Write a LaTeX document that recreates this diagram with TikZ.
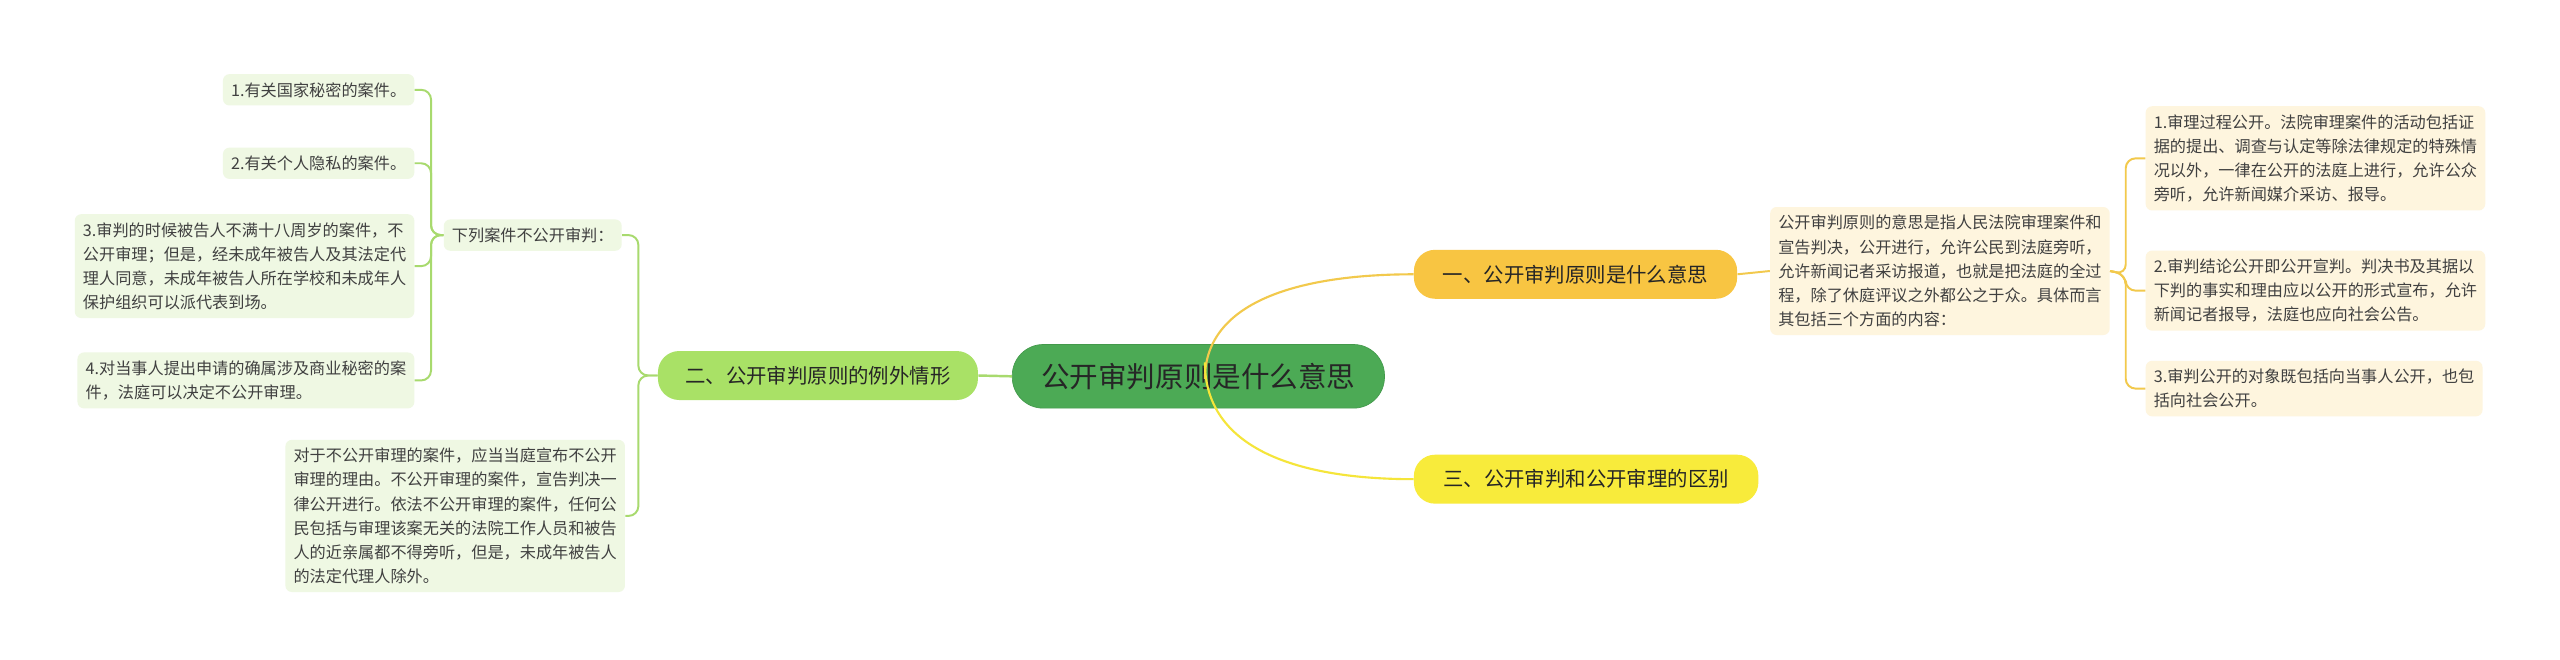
\documentclass[tikz,border=0pt]{standalone}
\usepackage{fontspec}
\setmainfont{Noto Sans CJK SC}
\definecolor{gfill}{HTML}{EFF8E3}
\definecolor{gline}{HTML}{A8DA6E}
\definecolor{ofill}{HTML}{FEF5DE}
\definecolor{oline}{HTML}{F2C94C}
\definecolor{yline}{HTML}{F5E53A}
\definecolor{cfill}{HTML}{4CAA55}
\definecolor{cdraw}{HTML}{43994B}
\definecolor{bone}{HTML}{F8C542}
\definecolor{bthree}{HTML}{F8EB3B}
\definecolor{btwo}{HTML}{A9E166}
\begin{document}
\begin{tikzpicture}[x=1pt,y=-1pt,
  leafg/.style={fill=gfill,rounded corners=4pt,align=left,font=\fontsize{9.9}{14.8}\selectfont,text=black!75,inner sep=5pt,anchor=east},
  leafo/.style={fill=ofill,rounded corners=4pt,align=left,font=\fontsize{9.9}{14.8}\selectfont,text=black!75,inner sep=5pt},
  branch/.style={rounded corners=13pt,minimum height=30pt,font=\fontsize{12.5}{14}\selectfont,text=black!85,inner xsep=12pt},
  gln/.style={draw=gline,line width=1.2pt,rounded corners=6pt},
  oln/.style={draw=oline,line width=1.2pt,rounded corners=6pt}]
\useasboundingbox (0,0) rectangle (1568,404);
\fill[white] (0,0) rectangle (1568,404);
% center
\node[fill=cfill,draw=cdraw,rounded corners=19pt,minimum width=228pt,minimum height=39pt,font=\fontsize{17.5}{20}\selectfont,text=black!85] (c) at (734,230.5) {公开审判原则是什么意思};
% branches
\node[branch,fill=bone,minimum width=198pt] (b1) at (965,168) {一、公开审判原则是什么意思};
\node[branch,fill=bthree,minimum width=211pt] (b3) at (971.5,293.5) {三、公开审判和公开审理的区别};
\node[branch,fill=btwo,minimum width=196pt] (b2) at (501,230) {二、公开审判原则的例外情形};
% connectors center
\draw[draw=gline,line width=1.5pt] (b2.east) -- (c.west);
\draw[draw=oline,line width=1.3pt] (738,232) .. controls (738,185) and (795,168) .. (b1.west);
\draw[draw=yline,line width=1.3pt] (738,222) .. controls (738,275) and (795,293.5) .. (b3.west);
% left side
\node[leafg] (s) at (381,144) {下列案件不公开审判：};
\node[leafg] (l1) at (254,55) {1.有关国家秘密的案件。};
\node[leafg] (l2) at (254,100) {2.有关个人隐私的案件。};
\node[leafg] (l3) at (254,163) {3.审判的时候被告人不满十八周岁的案件，不\\公开审理；但是，经未成年被告人及其法定代\\理人同意，未成年被告人所在学校和未成年人\\保护组织可以派代表到场。};
\node[leafg] (l4) at (254,233) {4.对当事人提出申请的确属涉及商业秘密的案\\件，法庭可以决定不公开审理。};
\node[leafg] (l5) at (383,316) {对于不公开审理的案件，应当当庭宣布不公开\\审理的理由。不公开审理的案件，宣告判决一\\律公开进行。依法不公开审理的案件，任何公\\民包括与审理该案无关的法院工作人员和被告\\人的近亲属都不得旁听，但是，未成年被告人\\的法定代理人除外。};
\draw[gln] (b2.west) -- (391,230) |- (s.east);
\draw[gln] (b2.west) -- (391,230) |- (l5.east);
\coordinate (sj) at (264,144);
\draw[gln] (s.west) -- (sj) |- (l1.east);
\draw[gln] (s.west) -- (sj) |- (l2.east);
\draw[gln] (s.west) -- (sj) |- (l3.east);
\draw[gln] (s.west) -- (sj) |- (l4.east);
% right side
\node[leafo,anchor=west] (d) at (1084,166) {公开审判原则的意思是指人民法院审理案件和\\宣告判决，公开进行，允许公民到法庭旁听，\\允许新闻记者采访报道，也就是把法庭的全过\\程，除了休庭评议之外都公之于众。具体而言\\其包括三个方面的内容：};
\node[leafo,anchor=west] (r1) at (1314,97) {1.审理过程公开。法院审理案件的活动包括证\\据的提出、调查与认定等除法律规定的特殊情\\况以外，一律在公开的法庭上进行，允许公众\\旁听，允许新闻媒介采访、报导。};
\node[leafo,anchor=west] (r2) at (1314,178) {2.审判结论公开即公开宣判。判决书及其据以\\下判的事实和理由应以公开的形式宣布，允许\\新闻记者报导，法庭也应向社会公告。};
\node[leafo,anchor=west] (r3) at (1314,238) {3.审判公开的对象既包括向当事人公开，也包\\括向社会公开。};
\draw[oln] (b1.east) -- (d.west);
\coordinate (rj) at (1302,168);
\draw[oln] (d.east) -- (rj) |- (r1.west);
\draw[oln] (d.east) -- (rj) |- (r2.west);
\draw[oln] (d.east) -- (rj) |- (r3.west);
\end{tikzpicture}
\end{document}
